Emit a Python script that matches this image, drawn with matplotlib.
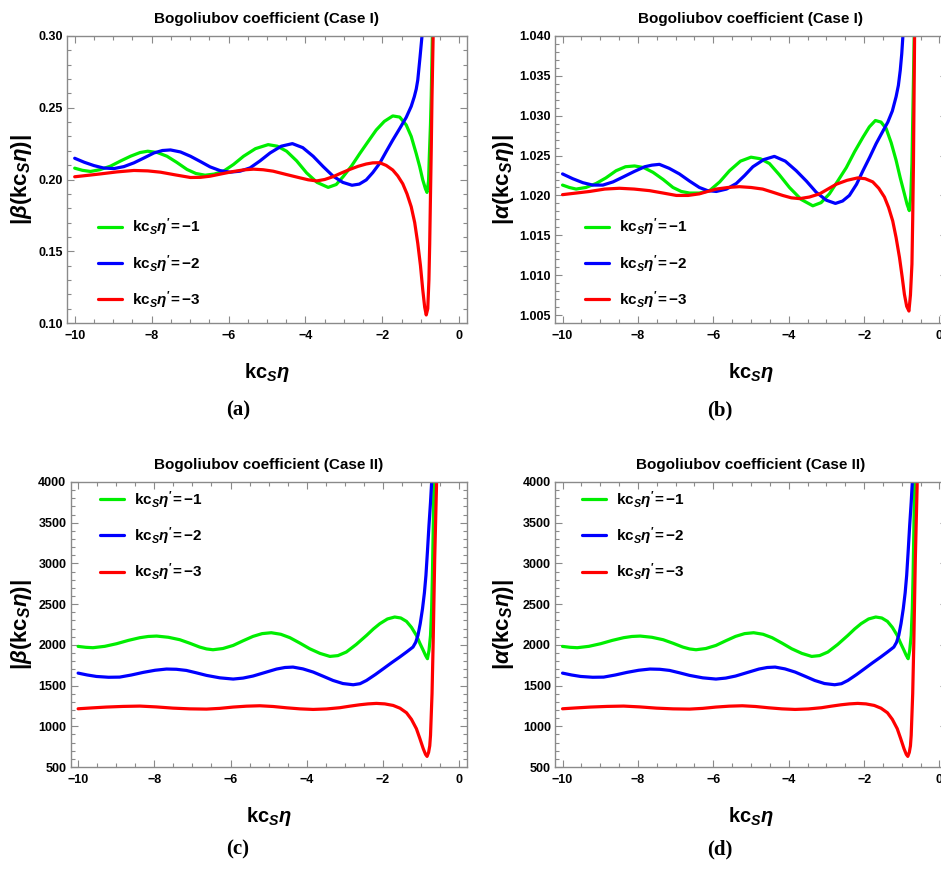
import matplotlib
matplotlib.use('Agg')
import matplotlib.pyplot as plt
from matplotlib.ticker import MultipleLocator, FormatStrFormatter

plt.rcParams['font.family'] = ['Liberation Sans', 'DejaVu Sans']
plt.rcParams['font.weight'] = 'bold'
plt.rcParams['mathtext.fontset'] = 'custom'
plt.rcParams['mathtext.rm'] = 'Liberation Sans:bold'
plt.rcParams['mathtext.it'] = 'Liberation Sans:italic:bold'
plt.rcParams['mathtext.bf'] = 'Liberation Sans:bold'
plt.rcParams['axes.unicode_minus'] = True

# ---------------- data: panel (a)  |beta|, Case I ----------------
a_green_x = [-10, -9.8, -9.59, -9.35, -9.07, -8.8, -8.55, -8.3, -8.10, -7.85, -7.60, -7.35, -7.08, -6.85,
             -6.61, -6.37, -6.13, -5.87, -5.61, -5.3, -4.97, -4.73, -4.49, -4.23, -3.97, -3.7, -3.41,
             -3.2, -3.02, -2.8, -2.59, -2.37, -2.16, -1.95, -1.73, -1.55, -1.38, -1.25, -1.12, -1.03,
             -0.95, -0.88, -0.84, -0.80, -0.78, -0.75, -0.73, -0.70]
a_green_y = [0.2079, 0.2064, 0.2056, 0.2068, 0.2093, 0.2130, 0.2162, 0.2188, 0.2197, 0.2188, 0.2162, 0.2120,
             0.2070, 0.2042, 0.2030, 0.2038, 0.2058, 0.2105, 0.2162, 0.2215, 0.2243, 0.2232, 0.2197, 0.2130,
             0.2046, 0.1980, 0.1945, 0.1965, 0.2020, 0.2095, 0.2180, 0.2265, 0.2345, 0.2405, 0.2443, 0.2435,
             0.2380, 0.2300, 0.2180, 0.2090, 0.1997, 0.1935, 0.1910, 0.1990, 0.2160, 0.2380, 0.2580, 0.3000]
a_blue_x = [-10, -9.75, -9.5, -9.25, -8.98, -8.72, -8.46, -8.2, -7.94, -7.72, -7.51, -7.25, -6.99, -6.73,
            -6.48, -6.22, -5.96, -5.7, -5.44, -5.18, -4.92, -4.63, -4.34, -4.07, -3.80, -3.54, -3.28,
            -3.03, -2.79, -2.6, -2.42, -2.25, -2.07, -1.9, -1.73, -1.55, -1.38, -1.25, -1.17, -1.12,
            -1.08, -1.02, -0.97]
a_blue_y = [0.2148, 0.2120, 0.2097, 0.2080, 0.2076, 0.2090, 0.2116, 0.2150, 0.2185, 0.2202, 0.2206, 0.2192,
            0.2162, 0.2125, 0.2088, 0.2062, 0.2051, 0.2058, 0.2081, 0.2130, 0.2185, 0.2232, 0.2250, 0.2222,
            0.2162, 0.2090, 0.2023, 0.1980, 0.1960, 0.1968, 0.1997, 0.2048, 0.2113, 0.2195, 0.2275, 0.2355,
            0.2433, 0.2510, 0.2577, 0.2630, 0.2693, 0.2856, 0.3000]
a_red_x = [-10, -9.66, -9.33, -8.9, -8.46, -8.1, -7.77, -7.38, -6.99, -6.73, -6.48, -6.17, -5.87, -5.61,
           -5.35, -5.1, -4.84, -4.5, -4.15, -3.93, -3.71, -3.5, -3.28, -3.07, -2.85, -2.63, -2.42, -2.25,
           -2.07, -1.9, -1.73, -1.6, -1.47, -1.36, -1.25, -1.16, -1.08, -1.01, -0.95, -0.90, -0.86, -0.82,
           -0.79, -0.77, -0.75, -0.73, -0.71, -0.68]
a_red_y = [0.2019, 0.2029, 0.2039, 0.2053, 0.2063, 0.2060, 0.2051, 0.2032, 0.2014, 0.2015, 0.2023, 0.2040,
           0.2056, 0.2067, 0.2072, 0.2068, 0.2058, 0.2035, 0.2012, 0.1998, 0.1990, 0.2000, 0.2020, 0.2045,
           0.2070, 0.2092, 0.2108, 0.2116, 0.2117, 0.2098, 0.2066, 0.2025, 0.1970, 0.1900, 0.1810, 0.1700,
           0.1555, 0.1400, 0.1230, 0.1110, 0.1056, 0.1100, 0.1300, 0.1550, 0.1880, 0.2200, 0.2580, 0.3000]

# ---------------- data: panel (b)  |alpha|, Case I ----------------
b_green_x = [-10, -9.82, -9.64, -9.38, -9.11, -8.85, -8.58, -8.33, -8.09, -7.85, -7.60, -7.33, -7.07,
             -6.85, -6.63, -6.37, -6.10, -5.83, -5.57, -5.28, -5.00, -4.75, -4.51, -4.25, -3.98, -3.67,
             -3.36, -3.14, -2.92, -2.7, -2.47, -2.25, -2.03, -1.86, -1.70, -1.55, -1.415, -1.28, -1.15,
             -1.04, -0.93, -0.86, -0.80, -0.76, -0.73, -0.69, -0.67]
b_green_y = [1.0213, 1.0210, 1.0208, 1.0210, 1.0215, 1.0222, 1.0231, 1.0236, 1.0237, 1.0235, 1.0229, 1.0220,
             1.0210, 1.0205, 1.0203, 1.0203, 1.0206, 1.0217, 1.0231, 1.0243, 1.0248, 1.0246, 1.0240, 1.0226,
             1.0210, 1.0195, 1.0187, 1.0191, 1.0202, 1.0218, 1.0235, 1.0255, 1.0273, 1.0286, 1.0294, 1.0292,
             1.0284, 1.0266, 1.0244, 1.0222, 1.0202, 1.0189, 1.0181, 1.0200, 1.0240, 1.0345, 1.0400]
b_blue_x = [-10, -9.73, -9.46, -9.2, -8.93, -8.66, -8.40, -8.1, -7.82, -7.63, -7.43, -7.17, -6.90, -6.63,
            -6.37, -6.15, -5.92, -5.65, -5.39, -5.17, -4.95, -4.66, -4.38, -4.09, -3.80, -3.53, -3.27,
            -3.0, -2.76, -2.57, -2.39, -2.2, -2.03, -1.85, -1.68, -1.52, -1.37, -1.25, -1.15, -1.09,
            -1.04, -1.0, -0.97]
b_blue_y = [1.0227, 1.0221, 1.0216, 1.0213, 1.0213, 1.0217, 1.0223, 1.0230, 1.0236, 1.0238, 1.0239, 1.0234,
            1.0227, 1.0218, 1.0210, 1.0206, 1.0205, 1.0208, 1.0215, 1.0225, 1.0236, 1.0245, 1.0249, 1.0243,
            1.0231, 1.0218, 1.0204, 1.0194, 1.0190, 1.0193, 1.0200, 1.0214, 1.0231, 1.0248, 1.0265, 1.0279,
            1.0292, 1.0306, 1.0324, 1.0338, 1.0357, 1.0378, 1.0400]
b_red_x = [-10, -9.64, -9.28, -8.88, -8.49, -8.1, -7.69, -7.33, -6.98, -6.67, -6.37, -6.15, -5.92, -5.61,
           -5.31, -5.0, -4.69, -4.42, -4.16, -3.93, -3.71, -3.45, -3.18, -2.96, -2.74, -2.45, -2.17, -1.97,
           -1.77, -1.61, -1.46, -1.35, -1.24, -1.15, -1.06, -0.99, -0.93, -0.87, -0.81, -0.77, -0.73,
           -0.71, -0.69, -0.66]
b_red_y = [1.0201, 1.0203, 1.0205, 1.0208, 1.0209, 1.0208, 1.0206, 1.0203, 1.0200, 1.0200, 1.0202, 1.0205,
           1.0208, 1.0210, 1.0211, 1.0210, 1.0208, 1.0204, 1.0200, 1.0197, 1.0196, 1.0198, 1.0202, 1.0208,
           1.0214, 1.0219, 1.0222, 1.0221, 1.0217, 1.0209, 1.0198, 1.0185, 1.0168, 1.0147, 1.0122, 1.0098,
           1.0076, 1.0061, 1.0055, 1.0075, 1.0114, 1.0170, 1.0240, 1.0400]

# ---------------- data: panels (c),(d)  Case II ----------------
c_green_x = [-10, -9.8, -9.61, -9.3, -8.99, -8.68, -8.38, -8.16, -7.94, -7.63, -7.33, -7.07, -6.81, -6.63,
             -6.46, -6.2, -5.93, -5.67, -5.41, -5.17, -4.93, -4.68, -4.44, -4.18, -3.92, -3.65, -3.39,
             -3.18, -2.96, -2.7, -2.43, -2.25, -2.08, -1.88, -1.69, -1.53, -1.38, -1.25, -1.12, -1.03,
             -0.94, -0.88, -0.83, -0.79, -0.75, -0.72, -0.70, -0.68, -0.66]
c_green_y = [1981, 1970, 1965, 1982, 2014, 2055, 2088, 2103, 2108, 2093, 2063, 2020, 1973, 1950,
             1940, 1955, 1993, 2050, 2104, 2138, 2149, 2130, 2088, 2022, 1952, 1895, 1858,
             1868, 1912, 2005, 2116, 2195, 2260, 2318, 2342, 2330, 2288, 2215, 2116, 2020,
             1932, 1870, 1830, 1930, 2116, 2450, 2853, 3400, 4000]
c_blue_x = [-10, -9.76, -9.52, -9.2, -8.91, -8.6, -8.29, -7.98, -7.68, -7.42, -7.16, -6.9, -6.63, -6.28,
            -5.93, -5.67, -5.41, -5.1, -4.79, -4.57, -4.36, -4.1, -3.83, -3.57, -3.31, -3.05, -2.78,
            -2.6, -2.43, -2.2, -1.99, -1.78, -1.56, -1.38, -1.21, -1.14, -1.08, -1.02, -0.96, -0.91,
            -0.87, -0.83, -0.79, -0.75, -0.72]
c_blue_y = [1653, 1630, 1612, 1602, 1604, 1630, 1662, 1688, 1703, 1700, 1686, 1657, 1625, 1595,
            1580, 1592, 1617, 1660, 1703, 1722, 1727, 1705, 1666, 1615, 1563, 1525, 1510,
            1523, 1563, 1635, 1706, 1778, 1850, 1912, 1973, 2030, 2116, 2260, 2444, 2640,
            2853, 3150, 3468, 3750, 4000]
c_red_x = [-10, -9.63, -9.26, -8.82, -8.38, -7.95, -7.51, -7.07, -6.63, -6.28, -5.93, -5.58, -5.23, -4.88,
           -4.53, -4.18, -3.83, -3.48, -3.13, -2.87, -2.61, -2.39, -2.17, -1.95, -1.73, -1.55, -1.38,
           -1.25, -1.12, -1.03, -0.94, -0.88, -0.84, -0.80, -0.77, -0.75, -0.71, -0.68, -0.64, -0.59]
c_red_y = [1215, 1226, 1236, 1244, 1248, 1238, 1223, 1214, 1211, 1220, 1236, 1247, 1252, 1243,
           1227, 1214, 1207, 1213, 1228, 1247, 1264, 1275, 1281, 1275, 1256, 1222, 1166,
           1085, 970, 850, 724, 655, 630, 680, 760, 888, 1400, 2034, 3058, 4000]

labels = [r"$\mathrm{kc}_S\eta^{\prime}\!{=}{-}1$",
          r"$\mathrm{kc}_S\eta^{\prime}\!{=}{-}2$",
          r"$\mathrm{kc}_S\eta^{\prime}\!{=}{-}3$"]
colors = ['#00ee00', '#0000ff', '#ff0000']
titles = ["Bogoliubov coefficient (Case I)", "Bogoliubov coefficient (Case I)",
          "Bogoliubov coefficient (Case II)", "Bogoliubov coefficient (Case II)"]
ylabels = [r"$|\beta(\mathrm{kc}_S\eta)|$", r"$|\alpha(\mathrm{kc}_S\eta)|$",
           r"$|\beta(\mathrm{kc}_S\eta)|$", r"$|\alpha(\mathrm{kc}_S\eta)|$"]
captions = ["(a)", "(b)", "(c)", "(d)"]
xlabel = r"$\mathrm{kc}_S\eta$"

W, H = 941, 869
fig = plt.figure(figsize=(W / 100, H / 100), dpi=100)

def px_axes(left, top, right, bottom):
    return fig.add_axes([left / W, 1 - bottom / H, (right - left) / W, (bottom - top) / H])

panels = [
    dict(rect=(67, 36, 467, 323), series=[(a_green_x, a_green_y), (a_blue_x, a_blue_y), (a_red_x, a_red_y)],
         ylim=(0.10, 0.30), ymaj=0.05, ymin=0.01, fmt='%.2f', leg=(0.0775, 0.37), ylab_x=22, xlab_y=373, cap=(238, 410)),
    dict(rect=(555, 36, 947, 323), series=[(b_green_x, b_green_y), (b_blue_x, b_blue_y), (b_red_x, b_red_y)],
         ylim=(1.004, 1.040), ymaj=0.005, ymin=0.001, fmt='%.3f', leg=(0.0765, 0.37), ylab_x=503, xlab_y=373, cap=(720, 410)),
    dict(rect=(70.5, 482, 466.7, 767), series=[(c_green_x, c_green_y), (c_blue_x, c_blue_y), (c_red_x, c_red_y)],
         ylim=(500, 4000), ymaj=500, ymin=100, fmt='%d', leg=(0.0745, 0.975), ylab_x=22, xlab_y=817, cap=(238, 849)),
    dict(rect=(555, 482, 947, 767), series=[(c_green_x, c_green_y), (c_blue_x, c_blue_y), (c_red_x, c_red_y)],
         ylim=(500, 4000), ymaj=500, ymin=100, fmt='%d', leg=(0.069, 0.975), ylab_x=503, xlab_y=817, cap=(720, 849)),
]

for i, p in enumerate(panels):
    l, t, r, b = p['rect']
    ax = px_axes(l, t, r, b)
    for (xs, ys), c, lab in zip(p['series'], colors, labels):
        ax.plot(xs, ys, color=c, lw=2.3, label=lab, solid_capstyle='round', solid_joinstyle='round')
    ax.set_xlim(-10.2, 0.2)
    ax.set_ylim(*p['ylim'])
    ax.xaxis.set_major_locator(MultipleLocator(2))
    ax.xaxis.set_minor_locator(MultipleLocator(0.5))
    ax.yaxis.set_major_locator(MultipleLocator(p['ymaj']))
    ax.yaxis.set_minor_locator(MultipleLocator(p['ymin']))
    ax.yaxis.set_major_formatter(FormatStrFormatter(p['fmt']))
    ax.tick_params(which='both', direction='in', top=True, right=True, color='#8a8a8a',
                   width=0.8, labelsize=9, pad=3)
    ax.tick_params(which='major', length=5)
    ax.tick_params(which='minor', length=3)
    ax.tick_params(axis='x', pad=5)
    for lbl in ax.get_xticklabels() + ax.get_yticklabels():
        lbl.set_fontweight('bold')
    for s in ax.spines.values():
        s.set_color('#8a8a8a')
        s.set_linewidth(1.0)
    ax.set_title(titles[i], fontsize=11, fontweight='bold', pad=9.5)
    ax.legend(loc='upper left', bbox_to_anchor=p['leg'], frameon=False, fontsize=11,
              handlelength=1.6, handletextpad=0.6, labelspacing=0.95, borderpad=0, borderaxespad=0)
    cx = (l + r) / 2
    fig.text(p['ylab_x'] / W, 1 - ((t + b) / 2) / H, ylabels[i], rotation=90, ha='center', va='center',
             fontsize=16)
    fig.text(cx / W, 1 - p['xlab_y'] / H, xlabel, ha='center', va='center', fontsize=14.5)
    fig.text(p['cap'][0] / W, 1 - p['cap'][1] / H, captions[i], ha='center', va='center', fontsize=15,
             family='Liberation Serif', fontweight='bold')

fig.savefig('out.png', dpi=100)
